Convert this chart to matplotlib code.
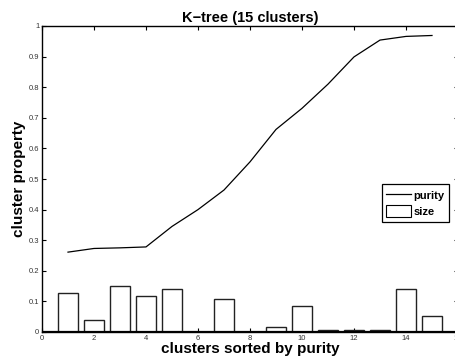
import matplotlib.pyplot as plt
from matplotlib.lines import Line2D
from matplotlib.patches import Rectangle

plt.rcParams['font.family'] = ['Liberation Sans', 'DejaVu Sans']

clusters = list(range(1, 16))
purity = [0.261, 0.273, 0.275, 0.278, 0.345, 0.400, 0.464, 0.556, 0.662,
          0.731, 0.810, 0.899, 0.954, 0.966, 0.969]
size = [0.128, 0.040, 0.150, 0.118, 0.140, 0.001, 0.109, 0.001, 0.017,
        0.084, 0.008, 0.005, 0.006, 0.142, 0.053]
xticks = list(range(0, 17, 2))
yticks = [i / 10 for i in range(11)]

fig = plt.figure(figsize=(4.55, 3.62), dpi=100)
ax = fig.add_axes([42 / 455, 30 / 362, 416 / 455, 306 / 362])

ax.bar(clusters, size, width=0.8, facecolor='white', edgecolor='#222222',
       linewidth=1.0, zorder=2)
ax.axhline(0, color='black', lw=1.6, zorder=3)
ax.plot(clusters, purity, color='black', lw=0.9, zorder=4)

ax.set_xlim(0, 16)
ax.set_ylim(0, 1)
ax.set_xticks(xticks)
ax.set_yticks(yticks)
ax.set_xticklabels([str(t) for t in xticks])
ax.set_yticklabels(['0'] + [f'{t:g}' for t in yticks[1:]])
ax.tick_params(direction='in', length=3, width=0.8, labelsize=5.5,
               labelcolor='#333333', top=True, right=True, pad=2)
for s in ax.spines.values():
    s.set_linewidth(1.0)

ax.set_title('K\u2212tree (15 clusters)', fontsize=10.5, fontweight='bold', pad=3)
ax.set_xlabel('clusters sorted by purity', fontsize=11, fontweight='bold', labelpad=0)
ax.set_ylabel('cluster property', fontsize=11, fontweight='bold', labelpad=2)

handles = [Line2D([], [], color='black', lw=0.9),
           Rectangle((0, 0), 1, 1, facecolor='white', edgecolor='black', lw=0.8)]
leg = ax.legend(handles, ['purity', 'size'], loc='upper left',
                bbox_to_anchor=((382 - 42) / 416, (332 - 184) / 306),
                prop={'weight': 'bold', 'size': 8}, fancybox=False,
                framealpha=1, edgecolor='black', borderpad=0.4,
                handlelength=2.2, handleheight=1.4, handletextpad=0.25,
                labelspacing=0.3, borderaxespad=0)
leg.get_frame().set_linewidth(0.9)

fig.savefig('out.png', dpi=100)
